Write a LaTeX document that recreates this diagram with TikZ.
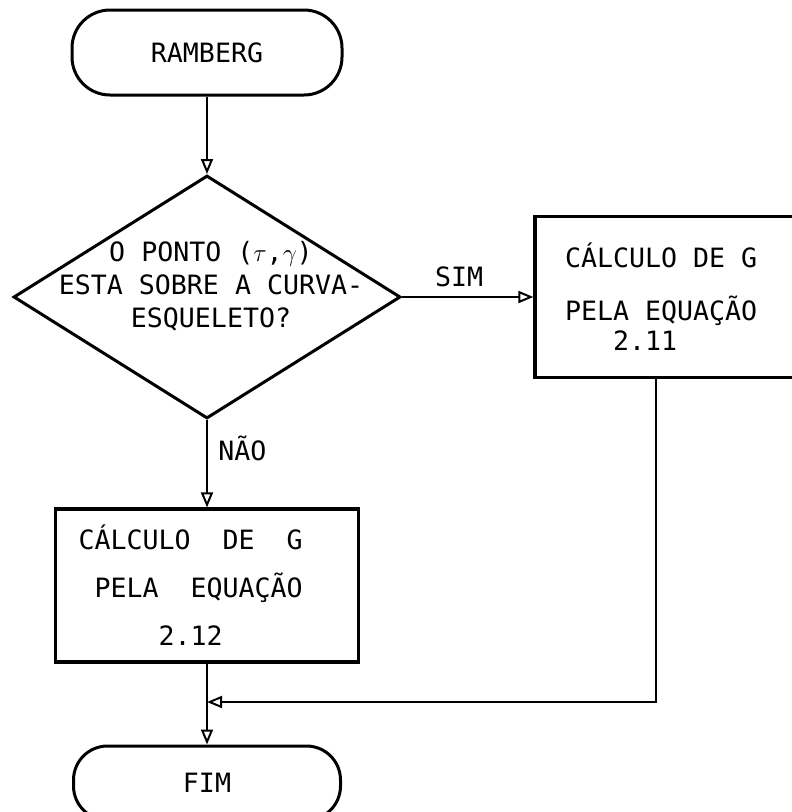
\documentclass[tikz,border=0pt]{standalone}
\usepackage{fontspec}
\setmainfont{DejaVu Sans Mono}
\usetikzlibrary{shapes.geometric,arrows.meta}
\newcommand{\esp}{\phantom{0}}
\tikzset{
  terminal/.style={draw, line width=3pt, rounded corners=38pt, minimum width=270pt, minimum height=85pt},
  processo/.style={draw, line width=3.2pt, align=left, inner ysep=0pt},
  decisao/.style={draw, diamond, line width=3pt, inner sep=0pt, minimum width=387pt, minimum height=243pt},
  seta/.style={-{Triangle[open,length=15pt,width=12pt,line width=2pt]}, line width=2pt},
}
\begin{document}
\begin{tikzpicture}[x=1pt,y=-1pt,font=\fontsize{26.6}{33}\selectfont]
  \useasboundingbox (0,0) rectangle (792,812);
  \clip (0,0) rectangle (792,812);

  % Nodi
  \node[terminal] (ramberg) at (207,52.5) {RAMBERG};
  \node[decisao] (teste) at (207,297) {};
  \node[align=center] (pergunta) at (211,286) {O PONTO ($\tau$,$\gamma$)\\ESTA SOBRE A CURVA-\\ESQUELETO?};
  \node[processo, text width=215pt, inner xsep=30pt, minimum height=161pt] (calc2) at (672.5,297)
    {CÁLCULO\esp DE\esp G\\[20pt]PELA\esp EQUAÇÃO\\[-3pt]\esp\esp\esp 2.11};
  \node[processo, text width=257pt, inner xsep=23pt, minimum height=153pt] (calc1) at (207,585.5)
    {CÁLCULO\esp\esp DE\esp\esp G\\[15pt]\esp PELA\esp\esp EQUAÇÃO\\[15pt]\esp\esp\esp\esp\esp 2.12};
  \node[terminal, minimum width=267pt, minimum height=74pt, rounded corners=34pt] (fim) at (207,783) {FIM};
  \coordinate (canto) at (656,702);
  \coordinate (juncao) at (207,702);

  % Frecce
  \draw[seta] (ramberg.south) -- (teste.north);
  \draw[seta] (teste.east) -- node[above=6pt,pos=0.435] {SIM} (calc2.west);
  \draw[seta] (teste.south) -- node[right=7pt,pos=0.33] {NÃO} (calc1.north);
  \draw[seta] (calc1.south) -- (fim.north);
  \draw[seta] (calc2.south -| canto) -- (canto) -- (juncao);
\end{tikzpicture}
\end{document}
